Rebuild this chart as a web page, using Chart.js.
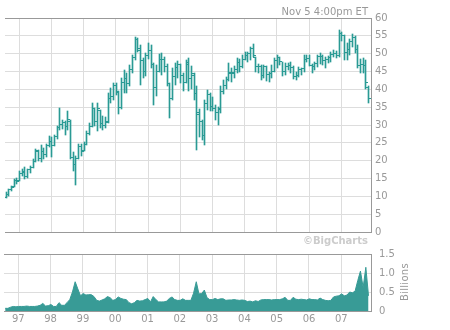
<!DOCTYPE html>
<html>
<head>
<meta charset="utf-8">
<script src="https://cdn.jsdelivr.net/npm/chart.js@4.4.0/dist/chart.umd.min.js"></script>
<style>
  body { margin: 0; background: #fff; }
  #wrap { position: relative; width: 450px; height: 330px; font-family: "DejaVu Sans", sans-serif; }
  canvas { position: absolute; left: 0; }
  #price { top: 0; }
  #vol { top: 240px; }
  .stamp { position: absolute; right: 82px; top: 6px; font-size: 10px; color: #999; white-space: nowrap; }
  .logo { position: absolute; right: 82px; top: 235px; font-size: 10px; font-weight: bold; color: #ccc; white-space: nowrap; }
  .units { position: absolute; left: 404px; top: 282px; transform: translate(-50%, -50%) rotate(-90deg); font-size: 10px; color: #999; white-space: nowrap; letter-spacing: 0.3px; }
</style>
</head>
<body>
<div id="wrap">
  <canvas id="price" width="450" height="242"></canvas>
  <canvas id="vol" width="450" height="90"></canvas>
  <div class="stamp">Nov 5 4:00pm ET</div>
  <div class="logo">©BigCharts</div>
  <div class="units">Billions</div>
</div>
<script>
// monthly bars, Aug 1996 .. Nov 2007
const firstYear = 1996, firstMonth = 7;

const opens = [
  9.8, 10.6, 11.8, 12.8, 14.5,
  14.3, 16.5, 17.0, 15.5, 17.5, 18.2, 19.8, 22.5, 20.5, 22.5, 21.8, 24.2,
  25.5, 24.3, 26.8, 29.3, 30.2, 30.8, 29.5, 31.0, 21.0, 19.0, 20.5, 24.0,
  22.8, 24.5, 27.5, 29.5, 34.5, 31.0, 34.0, 30.5, 30.0, 31.0, 37.3, 38.0,
  41.0, 39.0, 35.0, 42.0, 43.0, 41.5, 45.5, 49.0, 54.0, 51.0, 48.0, 45.0,
  49.5, 51.0, 47.0, 40.5, 45.0, 48.5, 48.5, 46.5, 41.5, 37.5, 43.5, 46.0,
  47.0, 44.0, 42.0, 47.5, 43.0, 44.0, 38.7, 33.0, 31.0, 27.0, 36.0, 38.5,
  35.2, 34.5, 33.5, 34.5, 39.5, 41.0, 42.8, 44.5, 44.5, 45.5, 47.5, 46.5,
  48.5, 49.5, 50.0, 51.5, 49.0, 46.5, 46.5, 44.0, 46.3, 44.2, 44.3, 45.0,
  48.2, 49.0, 47.7, 45.0, 46.5, 46.8, 46.2, 43.5, 43.8, 45.5, 45.8, 48.5,
  48.6, 46.8, 46.3, 47.2, 49.2, 49.3, 48.2, 48.3, 49.0, 49.7, 50.1, 49.6,
  55.7, 55.0, 50.4, 51.3, 53.5, 54.5, 51.3, 46.6, 46.9, 46.7, 40.5
];
const highs = [
  11.1, 12.0, 13.0, 15.0, 15.2,
  17.2, 17.8, 18.3, 17.8, 18.6, 20.5, 23.3, 23.0, 24.3, 23.5, 24.8, 26.8,
  26.5, 27.2, 29.8, 34.9, 31.5, 31.0, 33.9, 31.3, 22.5, 21.3, 24.6, 24.6,
  25.2, 28.3, 30.7, 36.3, 34.9, 36.3, 34.3, 32.5, 32.2, 39.0, 40.5, 41.9,
  41.9, 39.5, 43.3, 45.5, 44.5, 46.9, 49.7, 54.8, 54.5, 52.5, 48.8, 50.2,
  53.0, 52.5, 47.5, 46.9, 50.0, 50.2, 49.2, 47.0, 41.8, 46.0, 47.4, 48.0,
  47.2, 44.5, 48.3, 48.8, 46.5, 44.5, 40.8, 34.5, 31.5, 37.0, 39.8, 39.0,
  37.8, 35.5, 35.0, 40.8, 42.5, 43.5, 47.4, 46.0, 46.5, 48.8, 48.5, 49.7,
  50.5, 50.5, 52.0, 52.8, 49.0, 47.0, 46.8, 46.8, 46.5, 45.0, 46.9, 48.8,
  49.7, 49.0, 47.7, 47.4, 47.4, 47.6, 46.5, 44.8, 46.2, 46.0, 49.5, 49.5,
  49.5, 47.0, 47.8, 49.5, 50.2, 49.7, 49.0, 49.3, 50.5, 51.0, 50.8, 56.7,
  56.0, 55.3, 52.9, 54.0, 55.4, 55.0, 52.5, 48.5, 48.8, 48.3, 40.8
];
const lows = [
  9.6, 10.2, 11.5, 12.6, 13.4,
  14.2, 15.6, 14.8, 15.2, 16.5, 18.0, 19.6, 19.8, 19.7, 20.4, 21.0, 23.8,
  20.9, 24.0, 26.0, 28.5, 28.8, 27.3, 28.6, 20.4, 17.1, 13.1, 20.4, 21.3,
  22.6, 24.3, 27.3, 29.3, 29.7, 28.3, 29.2, 28.7, 29.2, 30.7, 36.3, 37.1,
  38.5, 33.0, 34.5, 39.0, 39.0, 40.8, 44.7, 48.3, 50.6, 41.3, 43.2, 43.6,
  48.5, 46.0, 35.7, 38.0, 44.8, 44.0, 45.0, 40.8, 32.0, 37.0, 41.3, 43.2,
  41.8, 39.5, 41.8, 39.4, 40.0, 37.0, 22.9, 26.5, 25.8, 24.5, 34.3, 34.0,
  33.9, 31.5, 30.1, 33.5, 38.8, 40.0, 42.2, 42.0, 43.2, 44.5, 45.0, 46.0,
  48.3, 47.8, 48.3, 49.0, 45.0, 44.6, 42.7, 43.2, 42.2, 42.0, 43.2, 45.0,
  46.0, 46.9, 43.6, 44.0, 45.3, 44.6, 43.0, 42.7, 43.5, 44.0, 45.0, 47.8,
  46.5, 44.6, 45.5, 46.4, 47.0, 46.9, 46.0, 47.4, 47.8, 49.2, 48.8, 49.2,
  53.5, 48.2, 48.2, 49.7, 52.0, 50.2, 46.0, 44.6, 44.6, 40.0, 36.2
];
const closes = [
  10.6, 11.8, 12.6, 14.5, 14.2,
  16.5, 16.8, 15.5, 17.5, 18.2, 19.8, 22.8, 20.5, 22.5, 21.8, 24.2, 25.5,
  24.3, 26.8, 29.3, 30.2, 30.8, 29.5, 31.5, 21.0, 19.0, 20.5, 24.0, 22.5,
  24.5, 27.5, 29.5, 34.5, 31.0, 34.5, 30.5, 30.0, 30.8, 37.3, 38.0, 41.0,
  39.5, 35.0, 42.0, 43.0, 41.5, 45.5, 49.0, 54.0, 51.5, 48.0, 45.0, 49.5,
  51.0, 47.0, 40.5, 45.0, 48.5, 48.5, 46.5, 41.5, 37.5, 43.5, 46.0, 47.0,
  44.0, 42.0, 47.0, 43.0, 44.5, 38.7, 33.5, 31.0, 27.0, 36.0, 38.5, 35.2,
  34.5, 33.5, 34.3, 39.5, 41.0, 42.8, 44.8, 44.8, 45.5, 47.5, 46.5, 48.5,
  49.5, 50.0, 51.5, 49.5, 46.5, 46.5, 44.0, 46.5, 44.2, 44.3, 45.0, 48.2,
  49.0, 47.7, 45.0, 46.5, 46.8, 46.2, 43.5, 43.8, 45.5, 45.8, 48.5, 48.6,
  46.8, 46.3, 47.2, 49.2, 49.3, 48.2, 48.3, 49.0, 49.7, 50.1, 49.6, 55.7,
  55.0, 50.4, 51.3, 53.5, 54.5, 51.3, 46.6, 46.9, 46.7, 41.9, 37.5
];
// volume, billions of shares
const volumes = [
  0.07, 0.07, 0.10, 0.12, 0.11,
  0.12, 0.12, 0.12, 0.13, 0.12, 0.12, 0.12, 0.13, 0.15, 0.20, 0.13, 0.14,
  0.17, 0.12, 0.12, 0.22, 0.15, 0.15, 0.22, 0.30, 0.50, 0.77, 0.58, 0.40,
  0.46, 0.42, 0.43, 0.43, 0.38, 0.28, 0.26, 0.29, 0.32, 0.38, 0.35, 0.28,
  0.30, 0.37, 0.33, 0.31, 0.30, 0.22, 0.19, 0.22, 0.28, 0.26, 0.27, 0.30,
  0.33, 0.24, 0.38, 0.30, 0.24, 0.24, 0.24, 0.26, 0.33, 0.37, 0.30, 0.28,
  0.28, 0.32, 0.28, 0.28, 0.28, 0.47, 0.77, 0.45, 0.46, 0.55, 0.35, 0.30,
  0.30, 0.33, 0.30, 0.32, 0.32, 0.28, 0.29, 0.29, 0.30, 0.29, 0.28, 0.29,
  0.28, 0.25, 0.26, 0.24, 0.27, 0.25, 0.29, 0.30, 0.30, 0.30, 0.29, 0.30,
  0.30, 0.30, 0.32, 0.36, 0.28, 0.28, 0.36, 0.31, 0.30, 0.31, 0.30, 0.29,
  0.32, 0.30, 0.30, 0.29, 0.34, 0.30, 0.28, 0.27, 0.28, 0.37, 0.39, 0.40,
  0.45, 0.40, 0.42, 0.50, 0.48, 0.52, 0.80, 1.05, 0.62, 1.15, 0.40
];

const yearTicks = [1997, 1998, 1999, 2000, 2001, 2002, 2003, 2004, 2005, 2006, 2007];
const yearLabels = ['97', '98', '99', '00', '01', '02', '03', '04', '05', '06', '07'];
const priceTicks = [0, 60, 5];
const volTicks = [0, 1.5, 0.5];

const X_MIN = 1996.557, X_MAX = 2007.92;
const TEAL = '#2a9a94';
const TEAL_FILL = '#389b96';
const GRID = '#dddddd';
const EDGE = '#999999';
const FONT = { family: 'DejaVu Sans', size: 10 };

const monthX = opens.map((_, i) => firstYear + (firstMonth + i) / 12 + 0.01);

function tickMark(side) {
  const c = document.createElement('canvas');
  c.width = 5; c.height = 1;
  const g = c.getContext('2d');
  g.fillStyle = TEAL;
  g.fillRect(side === 'left' ? 0 : 3, 0, 2, 1);
  return c;
}

// snap the thin OHLC marks onto the pixel grid so they stay crisp
const pixelSnap = {
  id: 'pixelSnap',
  beforeDatasetsDraw(chart) {
    chart.getSortedVisibleDatasetMetas().forEach(meta => {
      meta.data.forEach(el => {
        el.x = Math.floor(el.x) + 0.5;
        if (meta.type === 'bar') {
          el.y = Math.round(el.y);
          el.base = Math.round(el.base);
        } else {
          el.y = Math.floor(el.y) + 0.5;
        }
      });
    });
  }
};

function yearAxis(showLabels, height) {
  return {
    type: 'linear', min: X_MIN, max: X_MAX, offset: false,
    afterBuildTicks: s => { s.ticks = yearTicks.map(v => ({ value: v })); },
    afterFit: s => { s.height = height; },
    ticks: {
      display: showLabels, padding: 2, color: '#999', font: FONT,
      maxRotation: 0, autoSkip: false,
      callback: v => yearLabels[yearTicks.indexOf(v)]
    },
    grid: { color: GRID, drawTicks: false, offset: false },
    border: { display: false }
  };
}

function sideAxis(range, pad) {
  return {
    position: 'right', min: range[0], max: range[1],
    afterFit: s => { s.width = 79; },
    ticks: { stepSize: range[2], padding: pad, color: '#999', font: FONT },
    grid: {
      drawTicks: false,
      color: ctx => (ctx.tick.value === range[0] || ctx.tick.value === range[1]) ? EDGE : GRID
    },
    border: { color: EDGE }
  };
}

Chart.defaults.font.family = 'DejaVu Sans';

new Chart(document.getElementById('price'), {
  type: 'bar',
  data: {
    datasets: [
      {
        type: 'bar',
        data: monthX.map((x, i) => ({ x: x, y: [lows[i], highs[i]] })),
        backgroundColor: TEAL, barThickness: 1, borderWidth: 0
      },
      {
        type: 'line', showLine: false,
        data: monthX.map((x, i) => ({ x: x, y: opens[i] })),
        pointStyle: tickMark('left'), pointRadius: 1
      },
      {
        type: 'line', showLine: false,
        data: monthX.map((x, i) => ({ x: x, y: closes[i] })),
        pointStyle: tickMark('right'), pointRadius: 1
      }
    ]
  },
  plugins: [pixelSnap],
  options: {
    responsive: false, animation: false,
    layout: { padding: { left: 4, top: 18, right: 0, bottom: 0 } },
    plugins: { legend: { display: false }, tooltip: { enabled: false } },
    scales: { x: yearAxis(false, 9), y: sideAxis(priceTicks, 4) }
  }
});

new Chart(document.getElementById('vol'), {
  type: 'line',
  data: {
    datasets: [{
      data: monthX.map((x, i) => ({ x: x, y: volumes[i] })),
      fill: 'origin', backgroundColor: TEAL_FILL, borderColor: TEAL_FILL,
      borderWidth: 1, pointRadius: 0, tension: 0
    }]
  },
  options: {
    responsive: false, animation: false,
    layout: { padding: { left: 4, top: 11, right: 0, bottom: 0 } },
    plugins: { legend: { display: false }, tooltip: { enabled: false } },
    scales: { x: yearAxis(true, 19), y: sideAxis(volTicks, 8) }
  }
});
</script>
</body>
</html>
